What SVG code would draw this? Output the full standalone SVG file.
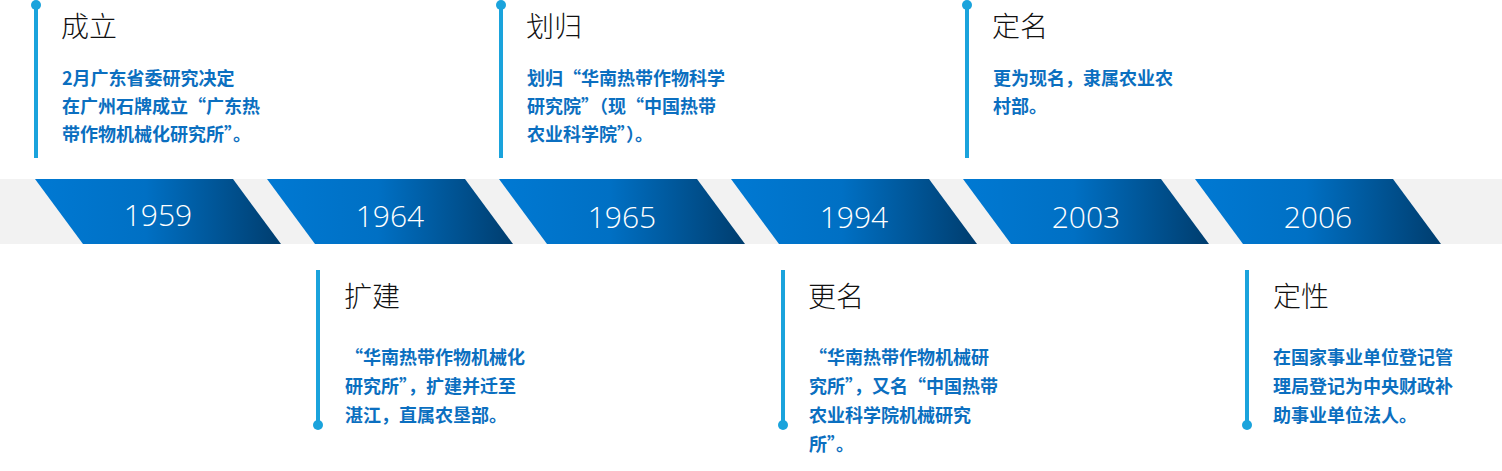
<svg xmlns="http://www.w3.org/2000/svg" width="1502" height="471" viewBox="0 0 1502 471">
<defs>
<linearGradient id="g" x1="0" y1="0" x2="1" y2="0">
<stop offset="0" stop-color="#0079d3"/><stop offset="0.45" stop-color="#0070c4"/><stop offset="1" stop-color="#003d6e"/>
</linearGradient>
<style>
.ln{stroke:#1aa3dc;stroke-width:4}
.dt{fill:#1aa3dc}
.yr{font-family:"Open Sans","Liberation Sans",sans-serif;font-weight:300;font-size:30px;fill:#fff;text-anchor:middle}
.tt{font-family:"Noto Sans CJK SC",sans-serif;font-weight:300;font-size:28px;fill:#111}
.bd{font-family:"Noto Sans CJK SC",sans-serif;font-weight:700;font-size:18px;fill:#0b6fc0}
</style>
</defs>
<rect x="0" y="179" width="1502" height="65" fill="#f2f2f2"/>
<g id="band">
<polygon points="35,179 233,179 281,244 83,244" fill="url(#g)"/>
<polygon points="267,179 465,179 513,244 315,244" fill="url(#g)"/>
<polygon points="499,179 697,179 745,244 547,244" fill="url(#g)"/>
<polygon points="731,179 929,179 977,244 779,244" fill="url(#g)"/>
<polygon points="963,179 1161,179 1209,244 1011,244" fill="url(#g)"/>
<polygon points="1195,179 1393,179 1441,244 1243,244" fill="url(#g)"/>
<text class="yr" x="158" y="226">1959</text>
<text class="yr" x="390" y="227">1964</text>
<text class="yr" x="622" y="228">1965</text>
<text class="yr" x="854" y="228">1994</text>
<text class="yr" x="1086" y="228">2003</text>
<text class="yr" x="1318" y="228">2006</text>
</g>
<g id="connectors">
<line class="ln" x1="36" y1="5" x2="36" y2="158"/><circle class="dt" cx="36" cy="5" r="5"/>
<line class="ln" x1="501" y1="5" x2="501" y2="158"/><circle class="dt" cx="501" cy="5" r="5"/>
<line class="ln" x1="967" y1="5" x2="967" y2="158"/><circle class="dt" cx="967" cy="5" r="5"/>
<line class="ln" x1="318" y1="270" x2="318" y2="425"/><circle class="dt" cx="318" cy="425" r="5"/>
<line class="ln" x1="783" y1="270" x2="783" y2="425"/><circle class="dt" cx="783" cy="425" r="5"/>
<line class="ln" x1="1247" y1="270" x2="1247" y2="425"/><circle class="dt" cx="1247" cy="425" r="5"/>
</g>
<g id="n1959"><text class="tt" x="61" y="37">成立</text>
<text class="bd" x="62" y="85">2月广东省委研究决定</text><text class="bd" x="62" y="113">在广州石牌成立“广东热</text><text class="bd" x="62" y="141">带作物机械化研究所”。</text></g>
<g id="n1965"><text class="tt" x="526" y="37">划归</text>
<text class="bd" x="527" y="85">划归“华南热带作物科学</text><text class="bd" x="527" y="113">研究院”（现“中国热带</text><text class="bd" x="527" y="141">农业科学院”）。</text></g>
<g id="n2003"><text class="tt" x="992" y="37">定名</text>
<text class="bd" x="993" y="85">更为现名，隶属农业农</text><text class="bd" x="993" y="113">村部。</text></g>
<g id="n1964"><text class="tt" x="344" y="307">扩建</text>
<text class="bd" x="345" y="364">“华南热带作物机械化</text><text class="bd" x="345" y="393">研究所”，扩建并迁至</text><text class="bd" x="345" y="422">湛江，直属农垦部。</text></g>
<g id="n1994"><text class="tt" x="808" y="307">更名</text>
<text class="bd" x="809" y="364">“华南热带作物机械研</text><text class="bd" x="809" y="393">究所”，又名“中国热带</text><text class="bd" x="809" y="422">农业科学院机械研究</text><text class="bd" x="809" y="451">所”。</text></g>
<g id="n2006"><text class="tt" x="1273" y="307">定性</text>
<text class="bd" x="1273" y="364">在国家事业单位登记管</text><text class="bd" x="1273" y="393">理局登记为中央财政补</text><text class="bd" x="1273" y="422">助事业单位法人。</text></g>
</svg>
